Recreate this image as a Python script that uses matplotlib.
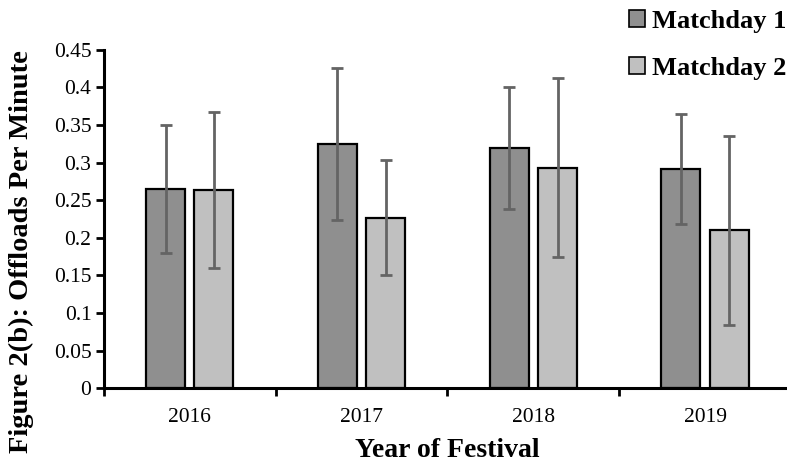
import numpy as np
import matplotlib
matplotlib.use("Agg")
import matplotlib.pyplot as plt
from matplotlib.ticker import FuncFormatter, FixedLocator
from matplotlib.patches import Patch

# ── Data
years = ["2016", "2017", "2018", "2019"]
md1_vals = [0.265, 0.325, 0.319, 0.292]
md1_err = [0.085, 0.101, 0.081, 0.073]
md2_vals = [0.264, 0.227, 0.293, 0.210]
md2_err = [0.104, 0.076, 0.119, 0.126]
series_names = ["Matchday 1", "Matchday 2"]

plt.rcParams["font.family"] = ["Liberation Serif", "DejaVu Serif"]

fig = plt.figure(figsize=(7.87, 4.66), dpi=100)
ax = fig.add_axes([0.132, 0.167, 0.873, 0.726])

x = np.arange(len(years))
width = 0.227
off = 0.141
err_kw = dict(ecolor="#646464", elinewidth=2, capsize=4.5, capthick=2)
ax.bar(x - off, md1_vals, width, yerr=md1_err, color="#8f8f8f",
       edgecolor="black", linewidth=1.6, error_kw=err_kw, zorder=2)
ax.bar(x + off, md2_vals, width, yerr=md2_err, color="#c0c0c0",
       edgecolor="black", linewidth=1.6, error_kw=err_kw, zorder=2)

ax.set_xlim(-0.5, 3.5)
ax.set_ylim(0, 0.45)
ax.set_yticks(np.arange(0, 0.451, 0.05))
ax.yaxis.set_major_formatter(FuncFormatter(lambda v, p: f"{v:.2f}".rstrip("0").rstrip(".") if v else "0"))

# category labels centred, ticks at boundaries
ax.set_xticks(x)
ax.set_xticklabels(years, fontsize=15.5)
ax.tick_params(axis="x", length=0, pad=14)
ax.xaxis.set_minor_locator(FixedLocator(np.arange(-0.5, 3.6, 1.0)))
ax.tick_params(axis="x", which="minor", length=6, width=2, direction="out")
ax.tick_params(axis="y", labelsize=15.5, length=6, width=2, direction="out", pad=3)

for s in ["top", "right"]:
    ax.spines[s].set_visible(False)
for s in ["left", "bottom"]:
    ax.spines[s].set_linewidth(2.2)

ax.set_ylabel("Figure 2(b): Offloads Per Minute", fontsize=20.5, fontweight="bold")
ax.yaxis.set_label_coords(-0.101, 0.405)
ax.set_xlabel("Year of Festival", fontsize=20, fontweight="bold", labelpad=8)

handles = [Patch(facecolor="#8f8f8f", edgecolor="black", linewidth=1.2),
           Patch(facecolor="#c0c0c0", edgecolor="black", linewidth=1.2)]
fig.legend(handles, series_names, loc="upper right", bbox_to_anchor=(1.029, 1.03),
           frameon=False, prop={"weight": "bold", "size": 19},
           handlelength=0.6, handleheight=0.6, handletextpad=0.27,
           labelspacing=0.9)

fig.savefig("out.png", dpi=100)
